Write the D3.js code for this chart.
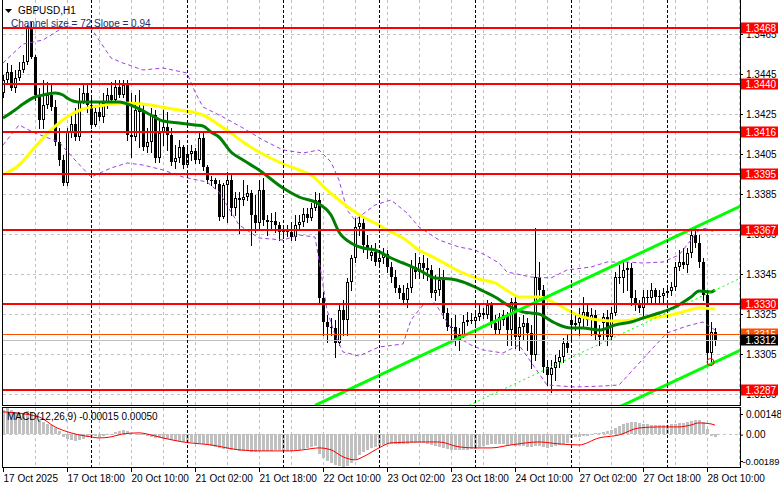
<!DOCTYPE html>
<html><head><meta charset="utf-8">
<script src="https://cdn.jsdelivr.net/npm/d3@7"></script>
<style>
html,body{margin:0;padding:0;background:#fff;}
svg{display:block;font-family:"Liberation Sans",Arial,sans-serif;}
</style></head><body>
<svg id="c" width="781" height="489"></svg>
<script>
// ---------- DATA ----------
const symbolTitle = "GBPUSD,H1";
const channelText = "Channel size = 72 Slope = 0.94";
const macdText = "MACD(12,26,9) -0.00015 0.00050";

const opens = [
1.34355,1.34420,1.34460,1.34380,1.34430,1.34470,1.34510,1.34680,1.34535,1.34345,
1.34220,1.34295,1.34345,1.34285,1.34110,1.34020,1.33905,1.34160,1.34200,1.34135,
1.34310,1.34355,1.34295,1.34195,1.34260,1.34235,1.34305,1.34345,1.34320,1.34385,
1.34345,1.34395,1.34145,1.34135,1.34270,1.34260,1.34085,1.34110,1.34245,1.34030,
1.34155,1.34185,1.34145,1.34010,1.34030,1.34085,1.33995,1.34050,1.34065,1.34020,
1.34130,1.33985,1.33920,1.33920,1.33900,1.33735,1.33895,1.33920,1.33780,1.33830,
1.33820,1.33835,1.33855,1.33745,1.33705,1.33870,1.33720,1.33710,1.33715,1.33695,
1.33660,1.33670,1.33660,1.33635,1.33695,1.33710,1.33750,1.33730,1.33780,1.33820,
1.33330,1.33210,1.33185,1.33180,1.33105,1.33270,1.33220,1.33410,1.33530,1.33685,
1.33705,1.33595,1.33540,1.33560,1.33510,1.33530,1.33550,1.33485,1.33435,1.33380,
1.33355,1.33320,1.33380,1.33485,1.33460,1.33505,1.33480,1.33470,1.33355,1.33370,
1.33420,1.33255,1.33185,1.33185,1.33120,1.33145,1.33210,1.33220,1.33215,1.33235,
1.33255,1.33245,1.33295,1.33205,1.33170,1.33220,1.33240,1.33170,1.33310,1.33135,
1.33185,1.33205,1.33155,1.33045,1.33435,1.33370,1.32985,1.32945,1.32980,1.33010,
1.33035,1.33105,1.33220,1.33195,1.33205,1.33230,1.33260,1.33220,1.33245,1.33145,
1.33205,1.33235,1.33135,1.33255,1.33435,1.33430,1.33470,1.33480,1.33330,1.33305,
1.33280,1.33335,1.33330,1.33370,1.33335,1.33340,1.33355,1.33365,1.33385,1.33485,
1.33510,1.33495,1.33555,1.33645,1.33605,1.33510,1.33345,1.33055,1.33160];
const highs = [
1.34445,1.34505,1.34495,1.34470,1.34510,1.34545,1.34695,1.34710,1.34545,1.34380,
1.34420,1.34410,1.34395,1.34320,1.34180,1.34045,1.34180,1.34245,1.34280,1.34380,
1.34395,1.34395,1.34345,1.34295,1.34305,1.34355,1.34380,1.34410,1.34420,1.34420,
1.34420,1.34420,1.34355,1.34345,1.34370,1.34295,1.34180,1.34280,1.34270,1.34220,
1.34270,1.34260,1.34180,1.34095,1.34120,1.34095,1.34080,1.34095,1.34080,1.34155,
1.34155,1.33995,1.33940,1.33930,1.33920,1.33905,1.33960,1.33945,1.33860,1.33860,
1.33920,1.33895,1.33870,1.33845,1.33920,1.33930,1.33745,1.33755,1.33760,1.33710,
1.33695,1.33695,1.33710,1.33745,1.33745,1.33780,1.33780,1.33805,1.33860,1.33855,
1.33360,1.33245,1.33230,1.33220,1.33295,1.33320,1.33430,1.33545,1.33730,1.33745,
1.33730,1.33645,1.33595,1.33605,1.33570,1.33580,1.33570,1.33510,1.33470,1.33395,
1.33395,1.33405,1.33520,1.33555,1.33535,1.33545,1.33530,1.33495,1.33445,1.33480,
1.33470,1.33280,1.33230,1.33245,1.33180,1.33245,1.33260,1.33255,1.33260,1.33295,
1.33280,1.33320,1.33310,1.33245,1.33255,1.33270,1.33260,1.33330,1.33340,1.33235,
1.33245,1.33230,1.33195,1.33680,1.33510,1.33395,1.33020,1.33020,1.33045,1.33070,
1.33130,1.33145,1.33255,1.33245,1.33280,1.33335,1.33295,1.33280,1.33270,1.33195,
1.33255,1.33270,1.33285,1.33460,1.33495,1.33510,1.33510,1.33505,1.33370,1.33320,
1.33370,1.33370,1.33405,1.33380,1.33370,1.33380,1.33395,1.33410,1.33510,1.33570,
1.33580,1.33580,1.33670,1.33685,1.33645,1.33530,1.33370,1.33210,1.33180];
const lows = [
1.34335,1.34410,1.34370,1.34360,1.34420,1.34460,1.34500,1.34530,1.34320,1.34180,
1.34180,1.34280,1.34270,1.34095,1.33995,1.33895,1.33895,1.34135,1.34120,1.34120,
1.34305,1.34260,1.34180,1.34190,1.34220,1.34210,1.34280,1.34305,1.34315,1.34335,
1.34335,1.34120,1.34035,1.34120,1.34085,1.34070,1.34060,1.34060,1.34010,1.34010,
1.34095,1.34070,1.33995,1.33980,1.34010,1.33980,1.33990,1.34020,1.34005,1.34005,
1.33970,1.33905,1.33895,1.33880,1.33720,1.33730,1.33710,1.33745,1.33745,1.33655,
1.33795,1.33820,1.33595,1.33660,1.33680,1.33695,1.33645,1.33670,1.33660,1.33620,
1.33630,1.33640,1.33620,1.33620,1.33680,1.33690,1.33710,1.33720,1.33770,1.33310,
1.33145,1.33110,1.33145,1.33035,1.33095,1.33145,1.33145,1.33370,1.33510,1.33645,
1.33560,1.33530,1.33520,1.33495,1.33495,1.33505,1.33460,1.33410,1.33360,1.33330,
1.33305,1.33285,1.33360,1.33430,1.33430,1.33430,1.33420,1.33335,1.33320,1.33345,
1.33230,1.33170,1.33120,1.33095,1.33070,1.33135,1.33195,1.33205,1.33195,1.33220,
1.33230,1.33230,1.33185,1.33155,1.33155,1.33195,1.33095,1.33095,1.33080,1.33070,
1.33120,1.33070,1.32980,1.33020,1.33320,1.32960,1.32895,1.32860,1.32920,1.32985,
1.33010,1.33060,1.33120,1.33170,1.33145,1.33180,1.33195,1.33145,1.33120,1.33095,
1.33120,1.33095,1.33120,1.33245,1.33405,1.33360,1.33370,1.33295,1.33270,1.33260,
1.33230,1.33305,1.33310,1.33310,1.33310,1.33310,1.33335,1.33345,1.33370,1.33470,
1.33480,1.33460,1.33535,1.33585,1.33485,1.33320,1.32995,1.32995,1.33095];
const closes = [
1.34420,1.34460,1.34380,1.34430,1.34470,1.34510,1.34680,1.34535,1.34345,1.34220,
1.34295,1.34345,1.34285,1.34110,1.34020,1.33905,1.34160,1.34200,1.34135,1.34310,
1.34355,1.34295,1.34195,1.34260,1.34235,1.34305,1.34345,1.34320,1.34385,1.34345,
1.34395,1.34145,1.34135,1.34270,1.34260,1.34085,1.34110,1.34245,1.34030,1.34155,
1.34185,1.34145,1.34010,1.34030,1.34085,1.33995,1.34050,1.34065,1.34020,1.34130,
1.33985,1.33920,1.33920,1.33900,1.33735,1.33895,1.33920,1.33780,1.33830,1.33820,
1.33835,1.33855,1.33745,1.33705,1.33870,1.33720,1.33710,1.33715,1.33695,1.33660,
1.33670,1.33660,1.33635,1.33695,1.33710,1.33750,1.33730,1.33780,1.33820,1.33330,
1.33210,1.33185,1.33180,1.33105,1.33270,1.33220,1.33410,1.33530,1.33685,1.33705,
1.33595,1.33570,1.33560,1.33510,1.33530,1.33550,1.33485,1.33435,1.33380,1.33355,
1.33320,1.33380,1.33485,1.33460,1.33505,1.33480,1.33470,1.33355,1.33370,1.33420,
1.33255,1.33185,1.33185,1.33120,1.33145,1.33210,1.33220,1.33215,1.33235,1.33255,
1.33245,1.33295,1.33205,1.33170,1.33235,1.33245,1.33170,1.33310,1.33135,1.33185,
1.33205,1.33155,1.33045,1.33435,1.33370,1.32985,1.32945,1.32980,1.33010,1.33035,
1.33105,1.33080,1.33195,1.33205,1.33230,1.33260,1.33220,1.33245,1.33145,1.33135,
1.33235,1.33135,1.33255,1.33435,1.33430,1.33470,1.33480,1.33330,1.33305,1.33280,
1.33335,1.33330,1.33370,1.33335,1.33340,1.33355,1.33365,1.33385,1.33485,1.33510,
1.33495,1.33555,1.33645,1.33605,1.33510,1.33345,1.33055,1.33160,1.33120];

// fast MA (dark green)
const fastMaBars = [0,3,5,8,10,13,15,16,19,24,29,33,37,40,44,48,50,52,54,57,60,64,70,74,79,82,84,87,90,93,97,100,104,108,112,115,118,120,123,127,130,134,138,142,145,149,153,157,160,164,168,172,174,177,178];
const fastMaValues = [1.34230,1.34270,1.34300,1.34335,1.34345,1.34355,1.34345,1.34330,1.34310,1.34310,1.34310,1.34285,1.34245,1.34215,1.34205,1.34195,1.34190,1.34160,1.34135,1.34060,1.34020,1.33970,1.33880,1.33835,1.33800,1.33745,1.33660,1.33605,1.33580,1.33570,1.33530,1.33505,1.33470,1.33430,1.33425,1.33410,1.33385,1.33365,1.33335,1.33285,1.33260,1.33250,1.33205,1.33180,1.33180,1.33170,1.33195,1.33210,1.33230,1.33255,1.33285,1.33335,1.33365,1.33360,1.33370];
// slow MA (yellow)
const slowMaBars = [0,4,8,12,16,20,24,30,37,41,44,50,54,57,60,64,69,74,77,81,84,88,90,93,97,100,104,108,112,115,119,123,127,129,134,138,142,145,149,153,157,160,164,169,174,178];
const slowMaValues = [1.33945,1.33995,1.34085,1.34170,1.34235,1.34275,1.34290,1.34305,1.34295,1.34280,1.34270,1.34245,1.34195,1.34155,1.34110,1.34060,1.34010,1.33970,1.33945,1.33870,1.33820,1.33760,1.33735,1.33705,1.33660,1.33630,1.33570,1.33530,1.33485,1.33455,1.33425,1.33405,1.33355,1.33335,1.33335,1.33305,1.33260,1.33235,1.33220,1.33215,1.33220,1.33230,1.33235,1.33255,1.33280,1.33275];
// band lines (violet dashed)
const upperBandBars = [0,5,10,14,16,22,24,27,30,35,40,46,48,50,55,60,65,70,75,79,82,84,86,88,93,97,101,104,109,114,118,121,124,126,132,137,141,147,151,156,160,165,169,172,174,176,178];
const upperBandValues = [1.34505,1.34600,1.34620,1.34670,1.34685,1.34680,1.34620,1.34530,1.34505,1.34470,1.34480,1.34455,1.34360,1.34285,1.34235,1.34180,1.34120,1.34070,1.34055,1.34070,1.34010,1.33920,1.33770,1.33720,1.33795,1.33820,1.33755,1.33685,1.33620,1.33585,1.33570,1.33540,1.33505,1.33460,1.33435,1.33430,1.33470,1.33485,1.33510,1.33510,1.33505,1.33510,1.33545,1.33620,1.33670,1.33680,1.33655];
const lowerBandBars = [0,4,8,14,18,22,27,31,35,40,45,51,54,59,64,70,74,78,79,80,81,83,85,89,94,100,102,105,108,111,114,117,120,125,129,132,136,143,150,154,157,162,166,171,175,178];
const lowerBandValues = [1.34095,1.34195,1.34155,1.34110,1.34020,1.33935,1.33980,1.34005,1.33995,1.33970,1.33935,1.33910,1.33860,1.33695,1.33630,1.33620,1.33645,1.33635,1.33520,1.33395,1.33270,1.33145,1.33060,1.33040,1.33085,1.33100,1.33220,1.33295,1.33305,1.33210,1.33130,1.33095,1.33070,1.33055,1.33095,1.33010,1.32895,1.32885,1.32890,1.32895,1.32960,1.33070,1.33155,1.33190,1.33210,1.33170];

// regression channel
const channelBars = [78, 185];
const channelUpper = [1.32793, 1.33795];
const channelSize = 0.0072;

// horizontal levels
const levels = [1.3468, 1.3440, 1.3416, 1.3395, 1.3367, 1.3330, 1.3287];
const orangeLevel = 1.3315;
const bidPrice = 1.3312;
const markerBar = 177, markerPrice = 1.33010;

// axes
const priceTicks = [1.3465,1.3445,1.3425,1.3405,1.3385,1.3365,1.3345,1.3325,1.3305,1.3285];
const timeTickBars = [0,16,32,48,64,80,96,112,128,144,160,176];
const timeTickLabels = ["17 Oct 2025","17 Oct 18:00","20 Oct 10:00","21 Oct 02:00","21 Oct 18:00","22 Oct 10:00","23 Oct 02:00","23 Oct 18:00","24 Oct 10:00","27 Oct 02:00","27 Oct 18:00","28 Oct 10:00"];
const daySeparatorBars = [22,46,70,94,118,142,166];

// MACD
const macdHist = [
0.00137,0.00148,0.00137,0.00126,0.00120,0.00120,0.00131,0.00126,0.00108,0.00086,
0.00069,0.00057,0.00051,0.00034,0.00017,-0.00017,-0.00029,-0.00034,-0.00040,-0.00034,
-0.00029,-0.00017,-0.00011,-0.00011,-0.00017,-0.00011,-0.00006,-0.00006,0.00011,0.00017,
0.00023,0.00017,0.00006,0,-0.00006,-0.00006,-0.00011,-0.00017,-0.00023,-0.00023,
-0.00029,-0.00029,-0.00034,-0.00040,-0.00040,-0.00046,-0.00046,-0.00046,-0.00051,-0.00051,
-0.00057,-0.00063,-0.00069,-0.00074,-0.00080,-0.00086,-0.00086,-0.00091,-0.00091,-0.00097,
-0.00097,-0.00097,-0.00103,-0.00103,-0.00097,-0.00097,-0.00097,-0.00097,-0.00091,-0.00091,
-0.00097,-0.00097,-0.00097,-0.00091,-0.00091,-0.00086,-0.00080,-0.00074,-0.00069,-0.00114,
-0.00137,-0.00154,-0.00166,-0.00177,-0.00183,-0.00189,-0.00183,-0.00166,-0.00143,-0.00120,
-0.00103,-0.00091,-0.00080,-0.00074,-0.00069,-0.00063,-0.00057,-0.00057,-0.00057,-0.00057,
-0.00057,-0.00057,-0.00051,-0.00051,-0.00051,-0.00051,-0.00057,-0.00063,-0.00069,-0.00074,
-0.00080,-0.00086,-0.00091,-0.00091,-0.00091,-0.00091,-0.00091,-0.00086,-0.00086,-0.00074,
-0.00069,-0.00063,-0.00057,-0.00057,-0.00057,-0.00057,-0.00063,-0.00063,-0.00069,-0.00069,
-0.00069,-0.00074,-0.00074,-0.00069,-0.00069,-0.00074,-0.00080,-0.00074,-0.00069,-0.00063,
-0.00057,-0.00051,-0.00023,-0.00017,-0.00017,-0.00011,-0.00011,-0.00006,0.00006,0.00006,
0.00011,0.00017,0.00023,0.00034,0.00046,0.00057,0.00063,0.00069,0.00069,0.00063,
0.00057,0.00057,0.00051,0.00051,0.00051,0.00051,0.00051,0.00057,0.00057,0.00063,
0.00063,0.00069,0.00074,0.00080,0.00080,0.00069,0.00029,-0.00011,-0.00015];
const signalBars = [0,9,13,17,22,24,27,30,34,37,40,45,52,59,64,72,75,79,82,85,88,90,94,97,104,109,114,118,122,127,134,139,144,149,154,159,164,169,172,174,177,178];
const signalValues = [0.00126,0.00097,0.00040,0.00006,-0.00017,-0.00023,-0.00017,0,0.00006,-0.00006,-0.00023,-0.00046,-0.00063,-0.00091,-0.00097,-0.00097,-0.00091,-0.00080,-0.00091,-0.00131,-0.00148,-0.00131,-0.00080,-0.00051,-0.00046,-0.00046,-0.00074,-0.00080,-0.00080,-0.00063,-0.00046,-0.00057,-0.00063,-0.00023,-0.00006,0.00034,0.00040,0.00040,0.00051,0.00063,0.00057,0.00050];
const macdTicks = [0.00148, 0, -0.00189];

// ---------- DRAWING ----------
const FONT = '"Liberation Sans", Arial, sans-serif';
const FS = 10;
const svg = d3.select('#c');
const x = d3.scaleLinear().domain([0, 1]).range([3, 7]);
const y = d3.scaleLinear().domain([1.3285, 1.3465]).range([394, 34]);
const ym = d3.scaleLinear().domain([-0.00189, 0.00148]).range([467, 408]);
const ymLabel = d3.scaleLinear().domain([-0.00189, 0.00148]).range([461, 414]);

svg.append('rect').attr('width',781).attr('height',489).attr('fill','#fff');
const defs = svg.append('defs');
defs.append('clipPath').attr('id','cm').append('rect').attr('x',3).attr('y',0).attr('width',737).attr('height',405);
defs.append('clipPath').attr('id','cd').append('rect').attr('x',3).attr('y',408).attr('width',737).attr('height',60);

const main = svg.append('g').attr('clip-path','url(#cm)');
const mac = svg.append('g').attr('clip-path','url(#cd)');

// grid
const gridBars = d3.range(8, 185, 8);
[[main,0,405],[mac,408,468]].forEach(([g,y0,y1]) => {
  g.append('g').selectAll('line').data(gridBars).enter().append('line')
    .attr('x1',d=>x(d)+0.5).attr('x2',d=>x(d)+0.5).attr('y1',y0).attr('y2',y1)
    .attr('stroke','#c0c0c0').attr('stroke-dasharray','3,3');
});
main.append('g').selectAll('line').data(priceTicks).enter().append('line')
  .attr('x1',3).attr('x2',740).attr('y1',d=>y(d)+0.5).attr('y2',d=>y(d)+0.5)
  .attr('stroke','#c0c0c0').attr('stroke-dasharray','3,3');
mac.append('line').attr('x1',3).attr('x2',740).attr('y1',ym(0)+0.5).attr('y2',ym(0)+0.5)
  .attr('stroke','#c0c0c0').attr('stroke-dasharray','3,3');

// day separators
svg.append('g').selectAll('line').data(daySeparatorBars).enter().append('line')
  .attr('x1',d=>x(d)+0.5).attr('x2',d=>x(d)+0.5).attr('y1',0).attr('y2',468)
  .attr('stroke','#000').attr('stroke-dasharray','3,2');

// candles
const idx = d3.range(closes.length);
const cg = main.append('g').attr('shape-rendering','crispEdges');
cg.selectAll('line').data(idx).enter().append('line')
  .attr('x1',i=>x(i)+0.5).attr('x2',i=>x(i)+0.5)
  .attr('y1',i=>y(highs[i])).attr('y2',i=>y(lows[i])+1)
  .attr('stroke','#000');
cg.selectAll('rect').data(idx).enter().append('rect')
  .each(function(i){
    const o = opens[i], c = closes[i];
    const top = y(Math.max(o,c)), bot = y(Math.min(o,c));
    const s = d3.select(this);
    if (c > o && bot - top >= 2) {
      s.attr('x', x(i)-0.5).attr('y', top+0.5).attr('width',2).attr('height', bot-top-1)
       .attr('fill','#fff').attr('stroke','#000');
    } else {
      s.attr('x', x(i)-1).attr('y', top).attr('width',3).attr('height', Math.max(bot-top,1))
       .attr('fill','#000');
    }
  });

// bands
const lineGen = (bars, vals, sc) => d3.line().x((d,k)=>x(bars[k])).y(d=>sc(d))(vals);
main.append('path').attr('d', lineGen(upperBandBars, upperBandValues, y))
  .attr('fill','none').attr('stroke','#a03ee0').attr('stroke-dasharray','4,3');
main.append('path').attr('d', lineGen(lowerBandBars, lowerBandValues, y))
  .attr('fill','none').attr('stroke','#a03ee0').attr('stroke-dasharray','4,3');

// moving averages
const smooth = (bars, vals, sc) => d3.line().curve(d3.curveMonotoneX).x((d,k)=>x(bars[k])).y(d=>sc(d))(vals);
main.append('path').attr('d', smooth(slowMaBars, slowMaValues, y))
  .attr('fill','none').attr('stroke','#ffff00').attr('stroke-width',3);
main.append('path').attr('d', smooth(fastMaBars, fastMaValues, y))
  .attr('fill','none').attr('stroke','#008000').attr('stroke-width',3);

// channel
const chLine = (off) => main.append('line')
  .attr('x1', x(channelBars[0])).attr('x2', x(channelBars[1]))
  .attr('y1', y(channelUpper[0]-off)).attr('y2', y(channelUpper[1]-off))
  .attr('stroke','#00ff00');
chLine(0).attr('stroke-width',3);
chLine(channelSize).attr('stroke-width',3);
chLine(channelSize/2).attr('stroke-width',1).attr('stroke-dasharray','2,3');

// horizontal levels
main.append('g').selectAll('line').data(levels).enter().append('line')
  .attr('x1',3).attr('x2',740).attr('y1',d=>y(d)).attr('y2',d=>y(d))
  .attr('stroke','#ff0000').attr('stroke-width',2);
main.append('line').attr('x1',3).attr('x2',740).attr('y1',y(orangeLevel)+0.5).attr('y2',y(orangeLevel)+0.5)
  .attr('stroke','#ff4f00');
main.append('line').attr('x1',3).attr('x2',740).attr('y1',y(bidPrice)+0.5).attr('y2',y(bidPrice)+0.5)
  .attr('stroke','#c0c0c0');
main.append('circle').attr('cx',x(markerBar)-0.5).attr('cy',y(markerPrice)).attr('r',3.5)
  .attr('fill','none').attr('stroke','#ff0000');

// MACD histogram + signal
mac.append('g').attr('shape-rendering','crispEdges').selectAll('rect').data(macdHist).enter().append('rect')
  .attr('x',(d,i)=>x(i)-1).attr('width',3)
  .attr('y',d=>Math.min(ym(d), ym(0))).attr('height',d=>Math.max(Math.abs(ym(d)-ym(0)),0.5))
  .attr('fill','#c0c0c0');
mac.append('path').attr('d', smooth(signalBars, signalValues, ym))
  .attr('fill','none').attr('stroke','#ff0000').attr('stroke-width',1);

// frames
const fr = svg.append('g').attr('stroke','#000').attr('shape-rendering','crispEdges');
fr.append('line').attr('x1',2.5).attr('x2',2.5).attr('y1',0).attr('y2',405.5);
fr.append('line').attr('x1',740.5).attr('x2',740.5).attr('y1',0).attr('y2',405.5);
fr.append('line').attr('x1',2.5).attr('x2',740.5).attr('y1',405.5).attr('y2',405.5);
fr.append('rect').attr('x',2.5).attr('y',407.5).attr('width',738).attr('height',60).attr('fill','none');

// right price axis (drawn under the level boxes, as in the reference)
const pa = svg.append('g').attr('transform','translate(740,0)')
  .call(d3.axisRight(y).tickValues(priceTicks).tickSize(3).tickPadding(3).tickFormat(d3.format('.4f')));
pa.select('.domain').remove();
pa.attr('font-family',FONT).attr('font-size',FS);
pa.selectAll('line').attr('stroke','#000');
pa.selectAll('text').attr('fill','#000');

// MACD axis
const ma = svg.append('g').attr('transform','translate(740,0)')
  .call(d3.axisRight(ymLabel).tickValues(macdTicks).tickSize(3).tickPadding(3)
    .tickFormat(d => d === 0 ? '0.00' : d.toFixed(5)));
ma.select('.domain').remove();
ma.attr('font-family',FONT).attr('font-size',FS);
ma.selectAll('text').attr('fill','#000').attr('dx', d => d < 0 ? -3.5 : 0)
  .attr('font-size', d => d < 0 ? 9.4 : FS);

// level labels
const lab = (v, fill) => {
  const g = svg.append('g');
  g.append('rect').attr('x',741).attr('y',y(v)-5.5).attr('width',37).attr('height',11).attr('fill',fill);
  g.append('text').attr('x',745.5).attr('y',y(v)+3.5).attr('fill','#fff')
    .attr('font-family',FONT).attr('font-size',FS).text(v.toFixed(4));
};
levels.forEach(v => lab(v, '#ff0000'));
lab(orangeLevel, '#ff4f00');
lab(bidPrice, '#000');

// time axis
const ta = svg.append('g').attr('transform','translate(0,468)')
  .call(d3.axisBottom(x).tickValues(timeTickBars).tickSize(4).tickPadding(3)
    .tickFormat((d,i)=>timeTickLabels[i]));
ta.select('.domain').remove();
ta.attr('font-family',FONT).attr('font-size',FS);
ta.selectAll('text').attr('text-anchor','start').attr('fill','#000');
ta.selectAll('line').attr('stroke','#000');

// titles
svg.append('path').attr('d','M5,9 L12,9 L8.5,13 Z').attr('fill','#000');
svg.append('text').attr('x',18).attr('y',14).attr('font-family',FONT).attr('font-size',FS)
  .attr('fill','#000').text(symbolTitle);
svg.append('text').attr('x',11).attr('y',27).attr('font-family',FONT).attr('font-size',FS)
  .attr('fill','#1c2b6e').text(channelText);
svg.append('text').attr('x',7).attr('y',420).attr('font-family',FONT).attr('font-size',FS)
  .attr('fill','#000').text(macdText);
</script>
</body></html>
